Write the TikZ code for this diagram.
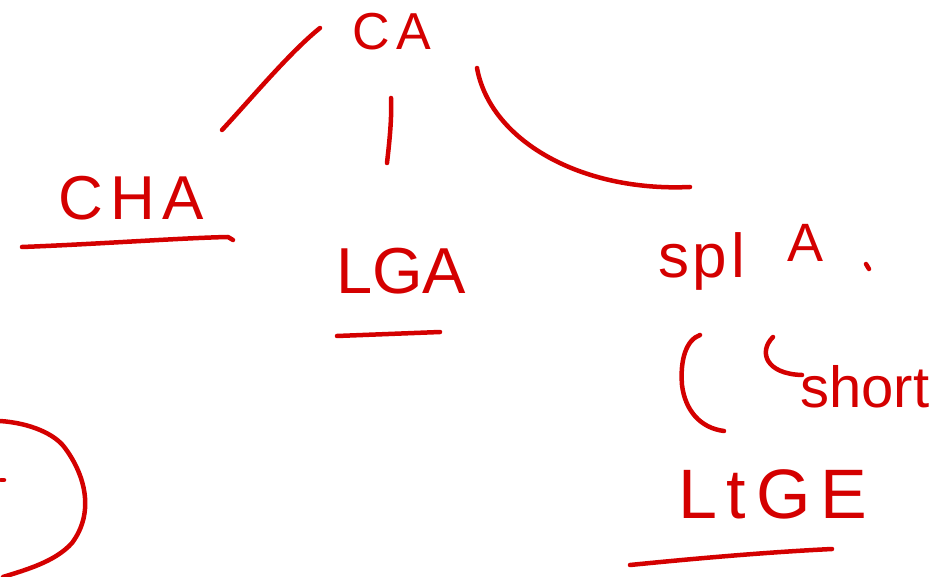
\documentclass[tikz,border=0pt]{standalone}
\usepackage{fontspec}
\setmainfont{Liberation Sans}
\definecolor{inkred}{RGB}{212,0,0}
\begin{document}
\begin{tikzpicture}[x=1pt,y=-1pt,
  ink/.style={draw=inkred, line width=4.5pt, line cap=round, line join=round},
  word/.style={text=inkred, inner sep=0pt, anchor=base west}]
\useasboundingbox (0,0) rectangle (948,577);
% words
\node[word] (ca) at (352,50) {\fontsize{52}{52}\selectfont\addfontfeatures{LetterSpace=14}CA};
\node[word] (cha) at (58,220) {\fontsize{62}{62}\selectfont\addfontfeatures{LetterSpace=12}CHA};
\node[word] (lga) at (336,294) {\fontsize{65}{65}\selectfont LGA};
\node[word] (spl) at (658,278) {\fontsize{62}{62}\selectfont\addfontfeatures{LetterSpace=6}spl};
\node[word] (a) at (787,262) {\fontsize{54}{54}\selectfont A};
\node[word] (short) at (800,407) {\fontsize{58}{58}\selectfont short};
\node[word] (ltge) at (678,518) {\fontsize{70}{70}\selectfont\addfontfeatures{LetterSpace=14}LtGE};
% connector ends
\coordinate (l1) at (320,28); \coordinate (l2) at (222,130);
\coordinate (m1) at (391,98); \coordinate (m2) at (387,163);
\coordinate (r1) at (477,68); \coordinate (r2) at (690,187);
\draw[ink] (l1) .. controls (290,52) and (250,100) .. (l2);
\draw[ink] (m1) .. controls (392,120) and (389,145) .. (m2);
\draw[ink] (r1) .. controls (490,140) and (580,192) .. (r2);
% underlines
\coordinate (u1a) at (22,247); \coordinate (u1b) at (228,237); \coordinate (u1c) at (233,240);
\draw[ink] (u1a) .. controls (100,244) and (180,238) .. (u1b) -- (u1c);
\coordinate (u2a) at (337,336); \coordinate (u2b) at (440,332);
\draw[ink] (u2a) -- (u2b);
\coordinate (u3a) at (630,565); \coordinate (u3b) at (832,549);
\draw[ink] (u3a) .. controls (700,558) and (770,552) .. (u3b);
% period after A
\coordinate (p1) at (866,264); \coordinate (p2) at (869,269);
\draw[ink] (p1) -- (p2);
% bracket and hook
\coordinate (b1) at (724,431); \coordinate (b2) at (700,335);
\draw[ink] (b1) .. controls (700,428) and (685,410) .. (682,385) .. controls (680,360) and (686,340) .. (b2);
\coordinate (h1) at (773,337); \coordinate (h2) at (802,375);
\draw[ink] (h1) .. controls (758,352) and (766,374) .. (h2);
% partial circle at left
\coordinate (c1) at (0,421); \coordinate (c2) at (3,577);
\draw[ink] (c1) .. controls (30,423) and (55,434) .. (65,448) .. controls (85,475) and (95,512) .. (72,543) .. controls (55,562) and (25,570) .. (c2);
\coordinate (d1) at (1,480); \coordinate (d2) at (4,480);
\draw[ink] (d1) -- (d2);
\end{tikzpicture}
\end{document}
